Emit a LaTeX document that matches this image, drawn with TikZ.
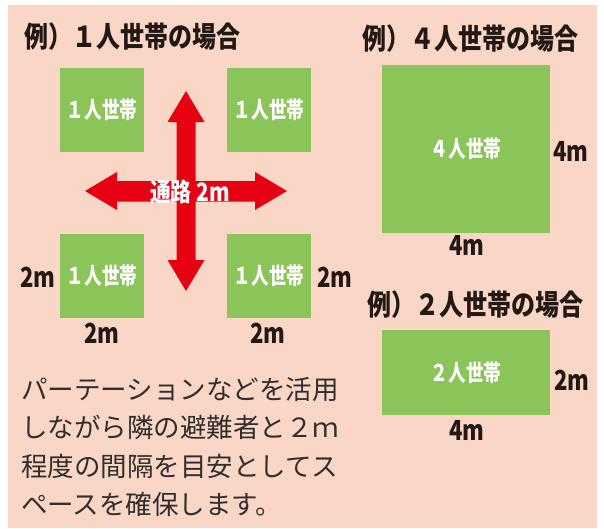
\documentclass[tikz,border=0pt]{standalone}
\usepackage{fontspec}
\usepackage{graphicx}
\newfontfamily\jp{Noto Sans CJK JP}
\definecolor{bgpink}{RGB}{249,214,198}
\definecolor{boxgreen}{RGB}{139,196,88}
\definecolor{arrred}{RGB}{230,0,18}
\definecolor{ink}{RGB}{35,24,21}
\definecolor{bodyink}{RGB}{50,46,45}
\newcommand{\tall}[2]{\scalebox{#1}[1.15]{#2}}
\tikzset{
  title/.style={anchor=west,inner sep=0pt,text=ink,font=\jp\bfseries\fontsize{25}{25}\selectfont},
  room/.style={fill=boxgreen,draw=none,inner sep=0pt,text=white,font=\jp\bfseries\fontsize{20}{20}\selectfont},
  dim/.style={inner sep=0pt,text=ink,font=\jp\bfseries\fontsize{24}{24}\selectfont},
  body/.style={anchor=north west,inner sep=0pt,text=bodyink,align=left,font=\jp\fontsize{26.5}{38.5}\selectfont},
}
\begin{document}
\begin{tikzpicture}[x=1pt,y=-1pt]
\useasboundingbox (0,0) rectangle (604,528);
\fill[white] (0,0) rectangle (604,528);
\fill[bgpink] (8,5) rectangle (597,528);
% titles
\node[title] (t1) at (24,37) {\tall{0.96}{例）１人世帯の場合}};
\node[title] (t4) at (362,39) {\tall{0.96}{例）４人世帯の場合}};
\node[title] (t2) at (367,305) {\tall{0.96}{例）２人世帯の場合}};
% one-person rooms
\node[room,minimum width=84pt,minimum height=84pt] (r1) at (102,110) {\tall{0.88}{１人世帯}};
\node[room,minimum width=84pt,minimum height=84pt] (r2) at (269,110) {\tall{0.88}{１人世帯}};
\node[room,minimum width=84pt,minimum height=84pt] (r3) at (102,276) {\tall{0.88}{１人世帯}};
\node[room,minimum width=84pt,minimum height=84pt] (r4) at (269,276) {\tall{0.88}{１人世帯}};
% arrows (corridor)
\fill[arrred] (186,91) -- (204.5,122) -- (195.5,122) -- (195.5,260) -- (204.5,260) -- (186,291)
  -- (167.5,260) -- (176.5,260) -- (176.5,122) -- (167.5,122) -- cycle;
\fill[arrred] (85,191) -- (117,172) -- (117,181) -- (255,181) -- (255,172) -- (287,191)
  -- (255,210) -- (255,201.5) -- (117,201.5) -- (117,210) -- cycle;
\node[inner sep=0pt,text=white,font=\jp\bfseries\fontsize{22}{22}\selectfont] (road) at (190,192) {\tall{0.95}{通路 2m}};
% dimension labels
\node[dim] (d1) at (38,277) {\tall{0.92}{2m}};
\node[dim] (d2) at (335,277) {\tall{0.92}{2m}};
\node[dim] (d3) at (102,333) {\tall{0.92}{2m}};
\node[dim] (d4) at (268,333) {\tall{0.92}{2m}};
% four-person room
\node[room,minimum width=168pt,minimum height=168pt] (r5) at (466,149) {\tall{0.88}{４人世帯}};
\node[dim] (d5) at (571,151) {\tall{0.92}{4m}};
\node[dim] (d6) at (467,245) {\tall{0.92}{4m}};
% two-person room
\node[room,minimum width=168pt,minimum height=85pt] (r6) at (466,372.5) {\tall{0.88}{２人世帯}};
\node[dim] (d7) at (572,380) {\tall{0.92}{2m}};
\node[dim] (d8) at (467,430) {\tall{0.92}{4m}};
% body text
\node[body] (txt) at (21,377) {パーテーションなどを活用\\しながら隣の避難者と２ｍ\\程度の間隔を目安としてス\\ペースを確保します。};
\end{tikzpicture}
\end{document}
